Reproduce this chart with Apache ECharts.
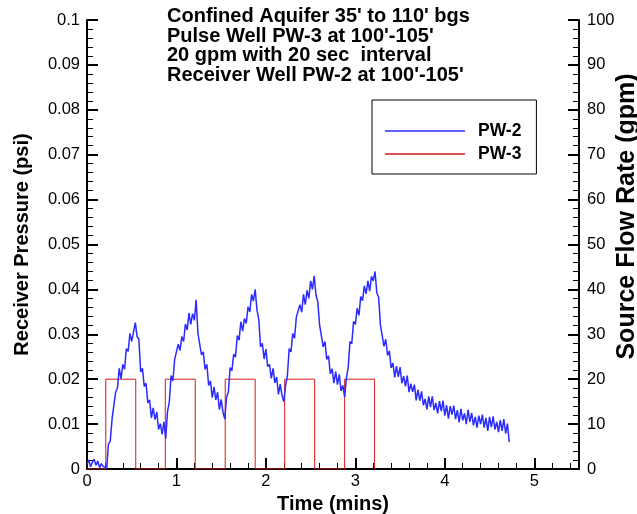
<!DOCTYPE html>
<html>
<head>
<meta charset="utf-8">
<script src="https://cdn.jsdelivr.net/npm/echarts@6/dist/echarts.min.js"></script>
<style>
html,body{margin:0;padding:0;background:#fff;}
#chart{width:637px;height:514px;}
</style>
</head>
<body>
<div id="chart"></div>
<script>
// ---- data ----
const titleLines = [
  "Confined Aquifer 35' to 110' bgs",
  "Pulse Well PW-3 at 100'-105'",
  "20 gpm with 20 sec  interval",
  "Receiver Well PW-2 at 100'-105'"
];
const seriesNames = ['PW-2', 'PW-3'];
const xTicks = [0, 1, 2, 3, 4, 5];
const leftTicks = [0, 0.01, 0.02, 0.03, 0.04, 0.05, 0.06, 0.07, 0.08, 0.09, 0.1];
const rightTicks = [0, 10, 20, 30, 40, 50, 60, 70, 80, 90, 100];

// PW-2 receiver pressure (psi), sampled every 0.02 min starting at t = 0
const pw2Start = 0;
const pw2Step = 0.02;
const pw2Pressure = [
  // 0.00 - 0.20
  0.0010,0.0020,0.0005,0.0015,0.0022,0.0008,0.0018,0.0003,0.0012,0.0006,0.0002,
  // 0.22 - 0.54
  0.0002,0.0056,0.0062,0.0111,0.0114,0.0171,0.0180,0.0224,0.0201,0.0233,0.0222,0.0268,0.0262,0.0302,0.0284,0.0305,0.0326,
  // 0.56 - 0.88
  0.0295,0.0289,0.0216,0.0224,0.0184,0.0191,0.0147,0.0154,0.0114,0.0136,0.0110,0.0127,0.0088,0.0101,0.0077,0.0105,0.0067,
  // 0.90 - 1.22
  0.0128,0.0149,0.0208,0.0196,0.0244,0.0242,0.0278,0.0264,0.0295,0.0284,0.0323,0.0310,0.0347,0.0322,0.0346,0.0331,0.0377,
  // 1.24 - 1.54
  0.0302,0.0303,0.0254,0.0261,0.0222,0.0233,0.0186,0.0196,0.0159,0.0183,0.0154,0.0171,0.0132,0.0155,0.0127,0.0111,
  // 1.56 - 1.88
  0.0160,0.0171,0.0226,0.0219,0.0256,0.0249,0.0297,0.0287,0.0328,0.0307,0.0335,0.0324,0.0361,0.0350,0.0389,0.0374,0.0400,
  // 1.90 - 2.20
  0.0354,0.0334,0.0272,0.0280,0.0245,0.0267,0.0228,0.0233,0.0202,0.0224,0.0192,0.0205,0.0166,0.0189,0.0164,0.0150,
  // 2.22 - 2.54
  0.0186,0.0207,0.0268,0.0261,0.0302,0.0291,0.0338,0.0334,0.0366,0.0349,0.0389,0.0366,0.0398,0.0380,0.0419,0.0400,0.0430,
  // 2.56 - 2.88
  0.0387,0.0373,0.0321,0.0320,0.0272,0.0284,0.0244,0.0252,0.0212,0.0223,0.0191,0.0217,0.0188,0.0211,0.0174,0.0186,0.0160,
  // 2.90 - 3.22
  0.0203,0.0226,0.0284,0.0279,0.0329,0.0322,0.0358,0.0342,0.0384,0.0375,0.0408,0.0390,0.0419,0.0396,0.0429,0.0419,0.0440,
  // 3.24 - 4.72
  0.0392,0.0383,0.0321,0.0320,0.0273,0.0289,0.0253,0.0263,0.0225,0.0236,
  0.0204,0.0229,0.0205,0.0227,0.0191,0.0207,0.0184,0.0208,0.0171,0.0190,
  0.0172,0.0188,0.0153,0.0177,0.0152,0.0173,0.0142,0.0156,0.0133,0.0162,
  0.0138,0.0162,0.0131,0.0147,0.0124,0.0151,0.0129,0.0152,0.0119,0.0142,
  0.0112,0.0140,0.0121,0.0141,0.0111,0.0131,0.0104,0.0134,0.0108,0.0124,
  0.0100,0.0132,0.0105,0.0125,0.0097,0.0116,0.0092,0.0119,0.0100,0.0121,
  0.0092,0.0114,0.0085,0.0116,0.0093,0.0117,0.0088,0.0105,0.0082,0.0109,
  0.0085,0.0111,0.0079,0.0101,0.0060
];

// PW-3 source flow rate (gpm): pulse on/off times (min)
const pw3OnTimes  = [0.21, 0.875, 1.545, 2.21, 2.88];
const pw3OffTimes = [0.545, 1.21, 1.88, 2.545, 3.215];
const pw3Rate = 20;

// ---- build series data ----
const pw2Data = pw2Pressure.map((v, i) => [+(pw2Start + i * pw2Step).toFixed(3), v]);
const pw3Data = [[0, 0]];
pw3OnTimes.forEach((on, k) => {
  pw3Data.push([on, 0], [on, pw3Rate], [pw3OffTimes[k], pw3Rate], [pw3OffTimes[k], 0]);
});

const FONT = '"Liberation Sans", Arial, sans-serif';
const chart = echarts.init(document.getElementById('chart'), null, {renderer: 'canvas'});
const axisLineStyle = {color: '#000', width: 2};

chart.setOption({
  animation: false,
  backgroundColor: '#fff',
  title: {
    text: titleLines.join('\n'),
    left: 162,
    top: 2,
    textStyle: {fontFamily: FONT, fontSize: 20, fontWeight: 'bold', color: '#000', lineHeight: 19.5}
  },
  legend: {
    data: seriesNames,
    orient: 'vertical',
    left: 372,
    top: 100,
    padding: [22, 15, 11, 13],
    itemGap: 5,
    itemWidth: 80,
    itemHeight: 1.4,
    icon: 'rect',
    borderColor: '#000',
    borderWidth: 1,
    textStyle: {fontFamily: FONT, fontSize: 17.5, fontWeight: 'bold', color: '#000', lineHeight: 16, padding: [0, 0, 0, 8]}
  },
  grid: {left: 87, right: 58, top: 20, bottom: 45, containLabel: false, outerBoundsMode: 'none'},
  xAxis: {
    type: 'value',
    min: 0, max: 5.5, interval: 1,
    name: 'Time (mins)',
    nameLocation: 'middle',
    nameGap: 18,
    nameTextStyle: {fontFamily: FONT, fontSize: 20, fontWeight: 'bold', color: '#000'},
    axisLine: {show: true, onZero: false, lineStyle: axisLineStyle},
    axisTick: {show: true, inside: true, length: 11, lineStyle: {color: '#000', width: 2}},
    minorTick: {show: true, splitNumber: 5, length: 6, lineStyle: {color: '#000', width: 1}},
    splitLine: {show: false},
    axisLabel: {
      fontFamily: FONT, fontSize: 16.5, color: '#000', margin: 4,
      formatter: v => (xTicks.indexOf(v) >= 0 ? String(v) : '')
    }
  },
  yAxis: [
    {
      type: 'value',
      min: 0, max: 0.1, interval: 0.01,
      position: 'left',
      name: 'Receiver Pressure (psi)',
      nameLocation: 'middle',
      nameGap: 55,
      nameTextStyle: {fontFamily: FONT, fontSize: 20, fontWeight: 'bold', color: '#000'},
      axisLine: {show: true, lineStyle: axisLineStyle},
      axisTick: {show: true, inside: true, length: 11, lineStyle: {color: '#000', width: 2}},
      minorTick: {show: true, splitNumber: 5, length: 6, lineStyle: {color: '#000', width: 1}},
      splitLine: {show: false},
      axisLabel: {
        fontFamily: FONT, fontSize: 16.5, color: '#000', margin: 7,
        formatter: v => {
          const m = leftTicks.find(t => Math.abs(t - v) < 1e-9);
          return m === undefined ? '' : String(m);
        }
      }
    },
    {
      type: 'value',
      min: 0, max: 100, interval: 10,
      position: 'right',
      name: 'Source Flow Rate (gpm)',
      nameLocation: 'middle',
      nameGap: 36,
      nameRotate: 90,
      nameMoveOverlap: false,
      nameTextStyle: {fontFamily: FONT, fontSize: 25, fontWeight: 'bold', color: '#000', padding: [0, 0, 0, 56]},
      axisLine: {show: true, lineStyle: axisLineStyle},
      axisTick: {show: true, inside: true, length: 11, lineStyle: {color: '#000', width: 2}},
      minorTick: {show: true, splitNumber: 5, length: 6, lineStyle: {color: '#000', width: 1}},
      splitLine: {show: false},
      axisLabel: {
        fontFamily: FONT, fontSize: 16.5, color: '#000', margin: 8,
        formatter: v => (rightTicks.indexOf(v) >= 0 ? String(v) : '')
      }
    }
  ],
  series: [
    {
      name: 'PW-2',
      type: 'line',
      yAxisIndex: 0,
      data: pw2Data,
      showSymbol: false,
      symbol: 'none',
      sampling: null,
      lineStyle: {color: '#2b2bff', width: 1.5},
      itemStyle: {color: '#2b2bff'},
      z: 3
    },
    {
      name: 'PW-3',
      type: 'line',
      yAxisIndex: 1,
      data: pw3Data,
      showSymbol: false,
      symbol: 'none',
      lineStyle: {color: '#d81818', width: 1},
      itemStyle: {color: '#d81818'},
      z: 2
    }
  ]
});
</script>
</body>
</html>
